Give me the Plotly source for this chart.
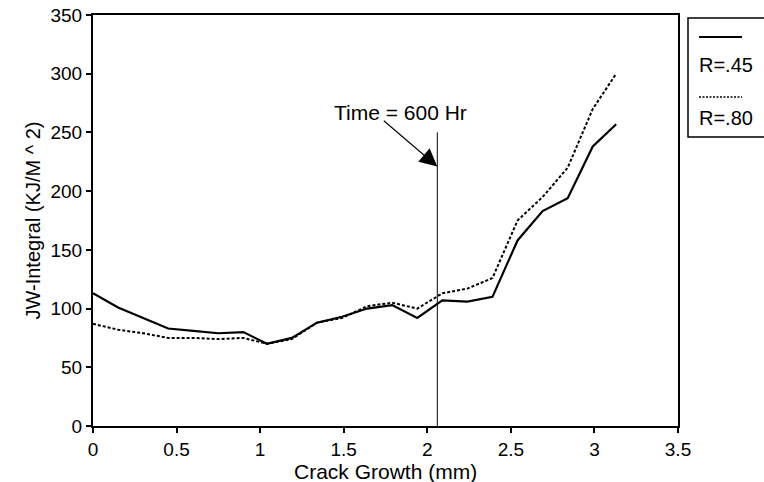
import plotly.graph_objects as go

# ---- data ----
crack_growth = [0.0, 0.15, 0.30, 0.45, 0.60, 0.75, 0.90, 1.04, 1.19, 1.34, 1.49,
                1.64, 1.79, 1.94, 2.09, 2.24, 2.39, 2.54, 2.69, 2.84, 2.99, 3.13]
jw_r45 = [113, 101, 92, 83, 81, 79, 80, 70, 75, 88, 93,
          100, 103, 92, 107, 106, 110, 158, 183, 194, 238, 257]
jw_r80 = [87, 82, 79, 75, 75, 74, 75, 70, 74, 88, 92,
          102, 105, 100, 113, 117, 126, 175, 195, 220, 270, 300]
series_names = ["R=.45", "R=.80"]
marker_x = 2.06          # "Time = 600 Hr" line
marker_top = 250
arrow_tip_y = 221
annot_text = "Time = 600 Hr"
annot_xy = (1.84, 267)
x_ticks = [0, 0.5, 1, 1.5, 2, 2.5, 3, 3.5]
x_tick_text = ["0", "0.5", "1", "1.5", "2", "2.5", "3", "3.5"]
y_ticks = [0, 50, 100, 150, 200, 250, 300, 350]
x_title = "Crack Growth (mm)"
y_title = "JW-Integral (KJ/M ^ 2)"

FONT = "Liberation Sans, Arial, Helvetica, sans-serif"
FS_TICK = 19
FS_TEXT = 20

# plot area in pixels
L, R, T, B = 93, 678, 15, 426
W, H = 764, 482


def px2paper_x(px):
    return (px - L) / float(R - L)


def px2paper_y(py):
    return (B - py) / float(B - T)


fig = go.Figure()
fig.add_trace(go.Scatter(x=crack_growth, y=jw_r45, mode="lines", name=series_names[0],
                         line=dict(color="black", width=2.2), showlegend=False))
fig.add_trace(go.Scatter(x=crack_growth, y=jw_r80, mode="lines", name=series_names[1],
                         line=dict(color="black", width=2, dash="3px,2px"), showlegend=False))
fig.add_trace(go.Scatter(x=[marker_x, marker_x], y=[0, marker_top], mode="lines",
                         line=dict(color="black", width=1), showlegend=False, hoverinfo="skip"))

fig.add_annotation(x=marker_x, y=arrow_tip_y, xref="x", yref="y", text="",
                   showarrow=True, ax=-55, ay=-47, arrowhead=2, arrowsize=3.2,
                   arrowwidth=1.1, arrowcolor="black", standoff=0)
fig.add_annotation(x=annot_xy[0], y=annot_xy[1], xref="x", yref="y", text=annot_text,
                   showarrow=False, font=dict(family=FONT, size=21, color="black"))

# axis titles as annotations (fixed positions)
fig.add_annotation(x=0.5, y=px2paper_y(471), xref="paper", yref="paper", text=x_title,
                   showarrow=False, xanchor="center", yanchor="middle",
                   font=dict(family=FONT, size=21, color="black"))
fig.add_annotation(x=px2paper_x(32), y=0.5, xref="paper", yref="paper", text=y_title,
                   showarrow=False, xanchor="center", yanchor="middle", textangle=-90,
                   font=dict(family=FONT, size=FS_TEXT, color="black"))

# ---- custom legend box (sample line above label) ----
fig.add_shape(type="rect", xref="paper", yref="paper",
              x0=px2paper_x(688), x1=px2paper_x(775), y0=px2paper_y(137), y1=px2paper_y(18),
              line=dict(color="black", width=1.5), fillcolor="white")
fig.add_shape(type="line", xref="paper", yref="paper",
              x0=px2paper_x(699), x1=px2paper_x(742), y0=px2paper_y(37), y1=px2paper_y(37),
              line=dict(color="black", width=2.2))
fig.add_shape(type="line", xref="paper", yref="paper",
              x0=px2paper_x(699), x1=px2paper_x(742), y0=px2paper_y(97), y1=px2paper_y(97),
              line=dict(color="black", width=1.5, dash="2px,1.5px"))
for name, py in zip(series_names, [65, 118]):
    fig.add_annotation(x=px2paper_x(697), y=px2paper_y(py), xref="paper", yref="paper",
                       text=name, showarrow=False, xanchor="left", yanchor="middle",
                       font=dict(family=FONT, size=FS_TEXT, color="black"))

fig.update_layout(
    width=W, height=H,
    margin=dict(l=L, r=W - R, t=T, b=H - B, autoexpand=False),
    paper_bgcolor="white", plot_bgcolor="white",
    font=dict(family=FONT, size=FS_TICK, color="black"),
)
fig.update_xaxes(range=[0, 3.5], tickvals=x_ticks, ticktext=x_tick_text, automargin=False,
                 showgrid=False, zeroline=False, showline=True, linecolor="black",
                 linewidth=2, mirror=True, ticks="outside", ticklen=5, tickwidth=1.5,
                 tickcolor="black", tickfont=dict(family=FONT, size=FS_TICK))
fig.update_yaxes(range=[0, 350], tickvals=y_ticks, automargin=False,
                 showgrid=False, zeroline=False, showline=True, linecolor="black",
                 linewidth=2, mirror=True, ticks="outside", ticklen=5, tickwidth=1.5,
                 tickcolor="black", tickfont=dict(family=FONT, size=FS_TICK))

fig.write_html("out.html")
